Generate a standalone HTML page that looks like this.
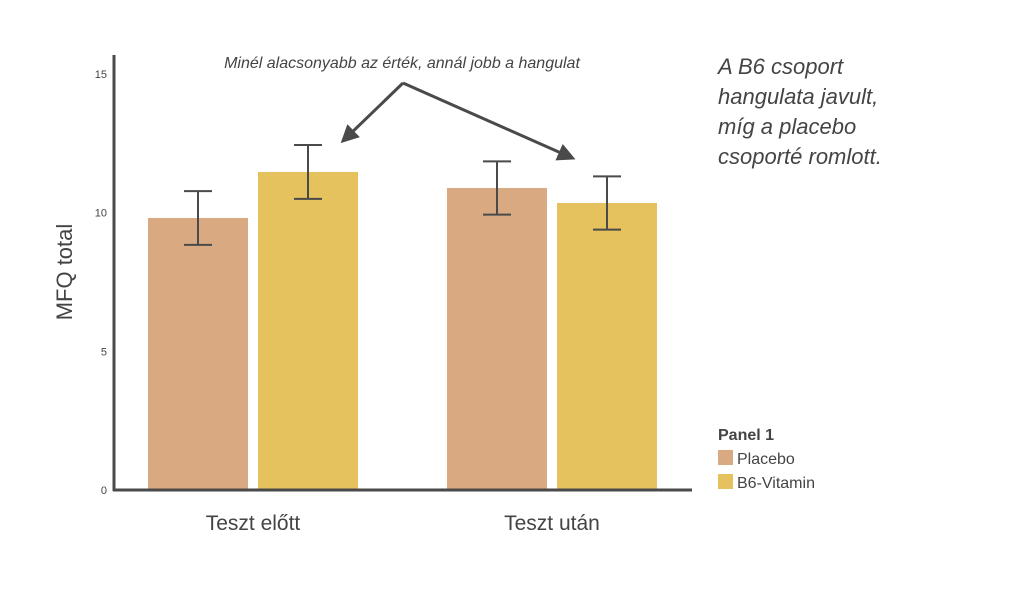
<!DOCTYPE html>
<html><head><meta charset="utf-8"><style>
body{margin:0;background:#fff;}
svg text{font-family:"Liberation Sans",sans-serif;fill:#444;}
</style></head><body>
<svg width="1025" height="587" viewBox="0 0 1025 587">
<defs><marker id="ah" markerWidth="6" markerHeight="6" refX="4" refY="3" orient="auto" markerUnits="strokeWidth"><path d="M0,0 L6,3 L0,6 Z" fill="#4a4a4a"/></marker></defs>
<g id="marks"></g>
<line x1="114" y1="55" x2="114" y2="491" stroke="#4a4a4a" stroke-width="3"/>
<line x1="113" y1="490" x2="692" y2="490" stroke="#4a4a4a" stroke-width="3"/>
<text x="72" y="272" font-size="22" text-anchor="middle" transform="rotate(-90 72 272)">MFQ total</text>
<text x="402" y="68" font-size="16" font-style="italic" text-anchor="middle">Minél alacsonyabb az érték, annál jobb a hangulat</text>
<line x1="403" y1="83" x2="345" y2="139" stroke="#4a4a4a" stroke-width="3" marker-end="url(#ah)"/>
<line x1="403" y1="83" x2="570" y2="157" stroke="#4a4a4a" stroke-width="3" marker-end="url(#ah)"/>
<g font-size="22" font-style="italic">
<text x="718" y="74">A B6 csoport</text><text x="718" y="104">hangulata javult,</text><text x="718" y="134">míg a placebo</text><text x="718" y="164">csoporté romlott.</text></g>
<text x="718" y="440" font-size="16" font-weight="bold">Panel 1</text>
<rect x="718" y="450" width="15" height="15" fill="#d9aa82"/>
<text x="737" y="464" font-size="16">Placebo</text>
<rect x="718" y="474" width="15" height="15" fill="#e6c25e"/>
<text x="737" y="488" font-size="16">B6-Vitamin</text>
</svg>
<script>
const categories=["Teszt előtt","Teszt után"];
const placebo=[9.81,10.89];
const b6=[11.47,10.35];
const placeboErr=[0.97,0.96];
const b6Err=[0.97,0.96];
const yTicks=[0,5,10,15];
const NS="http://www.w3.org/2000/svg";
const g=document.getElementById('marks');
const svg=g.ownerSVGElement;
function y(v){return 490-v*27.73;}
const groupX=[148,447];
function mk(t,a){const e=document.createElementNS(NS,t);for(const k in a)e.setAttribute(k,a[k]);return e;}
yTicks.forEach(t=>{const e=mk('text',{x:107,y:y(t)+4,'font-size':11,'text-anchor':'end'});e.textContent=t;


svg.appendChild(e);});
categories.forEach((c,i)=>{
 const e=mk('text',{x:groupX[i]+105,y:530,'font-size':21,'text-anchor':'middle'});e.textContent=c;
 
 
 svg.appendChild(e);
 [[placebo,placeboErr,'#d9aa82',0,'placebo'],[b6,b6Err,'#e6c25e',110,'b6']].forEach(s=>{
  const v=s[0][i],er=s[1][i],x=groupX[i]+s[3];
  const r=mk('rect',{x:x,y:y(v),width:100,height:490-y(v),fill:s[2]});
  
  
  g.appendChild(r);
  const cx=x+50,t=y(v+er),b=y(v-er);
  const p=mk('path',{d:`M${cx},${t}V${b}M${cx-14},${t}H${cx+14}M${cx-14},${b}H${cx+14}`,stroke:'#4a4a4a','stroke-width':2,fill:'none'});
  
  
  g.appendChild(p);
 });
});
</script>
</body></html>
